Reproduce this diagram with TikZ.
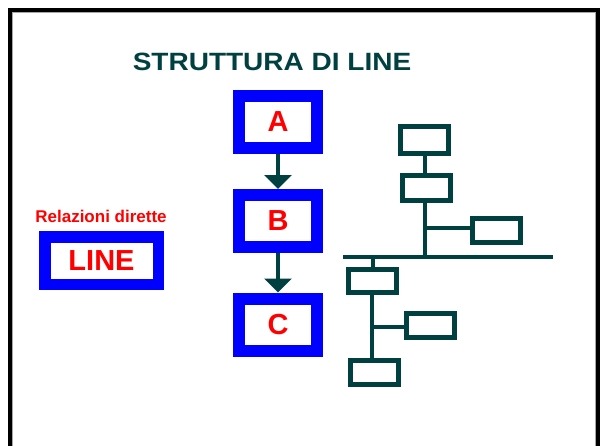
\documentclass[tikz,border=0pt]{standalone}
\usepackage{fontspec}
\setmainfont{Liberation Sans}
\newfontfamily\widefont[FakeStretch=1.12]{Liberation Sans}
\usetikzlibrary{arrows.meta}
\definecolor{tealdark}{RGB}{0,64,64}
\definecolor{boxblue}{RGB}{0,0,255}
\definecolor{txtred}{RGB}{255,0,0}
\begin{document}
\begin{tikzpicture}[x=1pt,y=-1pt,
  bluebox/.style={draw=boxblue,line width=12pt,fill=white,minimum width=78pt,minimum height=52pt,inner sep=0pt,
    font=\bfseries\fontsize{29}{29}\selectfont,text=txtred},
  orgbox/.style={draw=tealdark,line width=5pt,fill=white,minimum width=48pt,minimum height=25pt,inner sep=0pt},
  flowarrow/.style={draw=tealdark,line width=4pt,-{Triangle[width=27pt,length=14pt]}},
  orgline/.style={draw=tealdark,line width=3.5pt}]
\useasboundingbox (0,0) rectangle (605,445);
\fill[white] (0,0) rectangle (605,445);
% frame
\draw[black,line width=4pt] (10,460) -- (10,10) -- (598,10) -- (598,460);
\draw[gray!70,line width=0.8pt] (12.8,460) -- (12.8,12.8) -- (595.2,12.8) -- (595.2,460);
% title
\node[anchor=base,text=tealdark,font=\widefont\bfseries\fontsize{25}{25}\selectfont,inner sep=0pt] (title) at (272,70) {STRUTTURA DI LINE};
% left legend
\node[anchor=base,text=txtred,font=\bfseries\fontsize{17}{17}\selectfont,inner sep=0pt] (rel) at (101,222) {Relazioni dirette};
\node[bluebox,line width=11.5pt,minimum width=113.5pt,minimum height=47.5pt] (line) at (101.5,260.5) {LINE};
% flow boxes
\node[bluebox] (A) at (278,122) {A};
\node[bluebox] (B) at (278,221) {B};
\node[bluebox] (C) at (278,324.5) {C};
\draw[flowarrow] (A.south) -- (B.north);
\draw[flowarrow] (B.south) -- (C.north);
% organisation chart
\node[orgbox,minimum height=27pt] (o1) at (424.5,140) {};
\node[orgbox] (o2) at (426,188) {};
\node[orgbox,minimum height=24pt] (o3) at (496,230.5) {};
\node[orgbox,minimum height=23pt] (o4) at (372.5,281) {};
\node[orgbox,minimum height=24pt] (o5) at (430.5,325.5) {};
\node[orgbox,minimum height=24pt] (o6) at (374,372.5) {};
\coordinate (busL) at (343,257);
\coordinate (busR) at (553,257);
\coordinate (busT) at (425,257);
\coordinate (busB) at (373,257);
\coordinate (j1) at (425,228);
\coordinate (j2) at (372,327);
\draw[orgline] (busL) -- (busR);
\draw[orgline] (o1.south -| busT) -- (o2.north -| busT);
\draw[orgline] (o2.south -| busT) -- (busT);
\draw[orgline] (j1) -- (o3.west |- j1);
\draw[orgline] (busB) -- (o4.north -| busB);
\draw[orgline] (o4.south -| j2) -- (o6.north -| j2);
\draw[orgline] (j2) -- (o5.west |- j2);
\end{tikzpicture}
\end{document}
